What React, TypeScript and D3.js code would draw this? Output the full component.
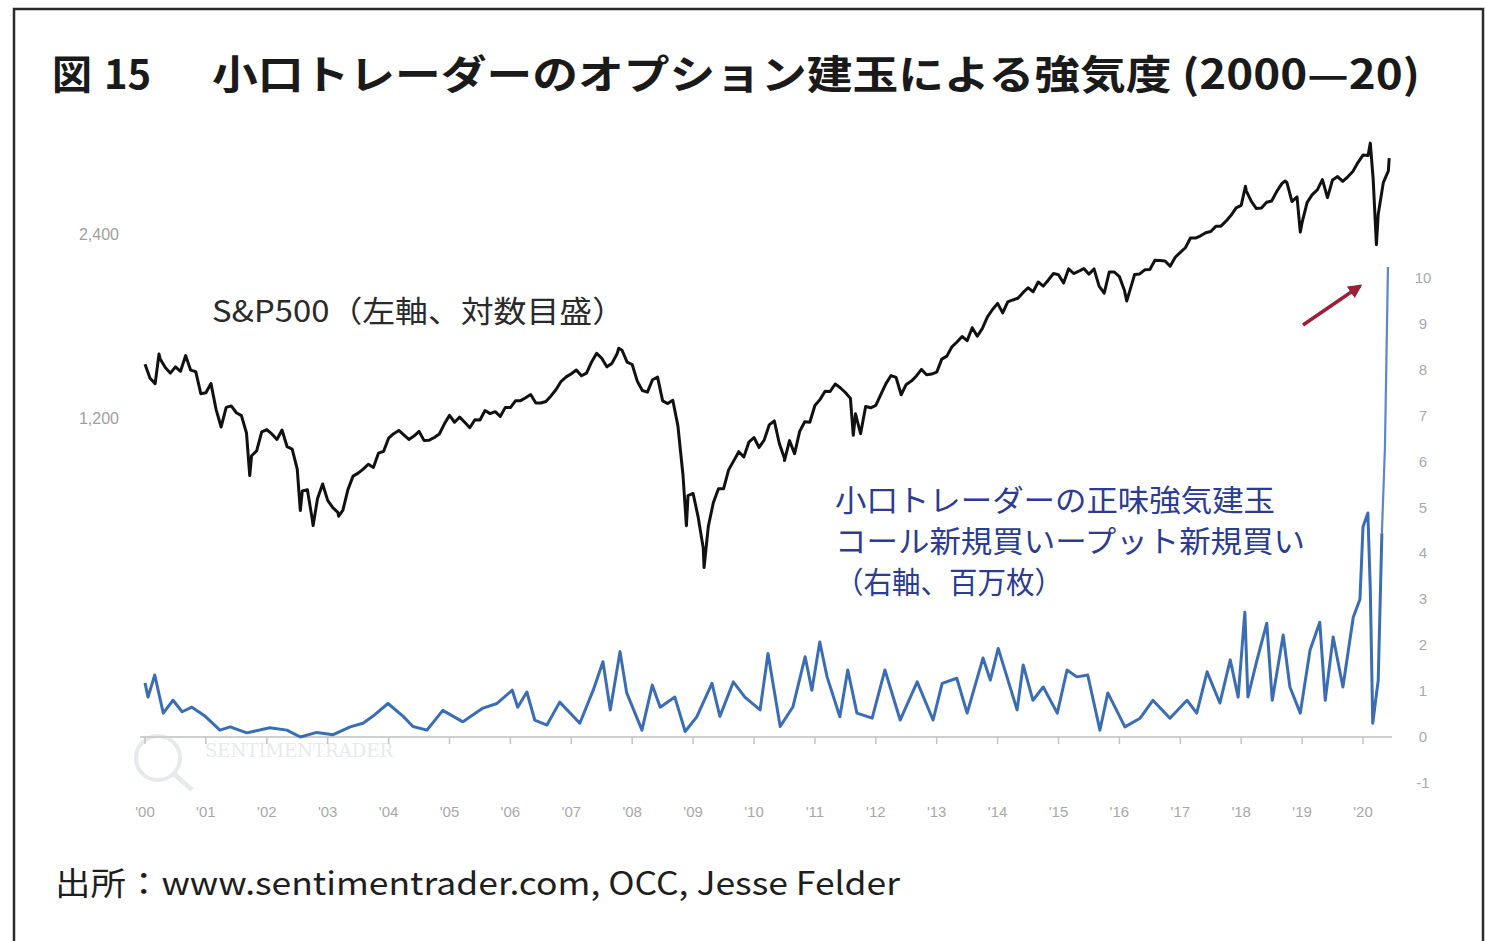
import React from 'react';
import * as d3 from 'd3';

// ---------- DATA ----------
const spxFirstYear = 2000; // month-end closes starting Jan 2000
const spxMonthlyClose = [
  1394, 1366, 1499, 1452, 1421, 1455, 1431, 1518, 1437, 1429, 1315, 1320,
  1366, 1240, 1160, 1249, 1256, 1224, 1211, 1134, 1041, 1060, 1139, 1148,
  1130, 1107, 1147, 1077, 1067, 990, 912, 916, 815, 886, 936, 880,
  856, 841, 848, 917, 964, 975, 990, 1008, 996, 1051, 1058, 1112,
  1131, 1145, 1126, 1107, 1121, 1141, 1102, 1104, 1115, 1130, 1174, 1212,
  1181, 1204, 1181, 1157, 1192, 1191, 1234, 1220, 1229, 1207, 1249, 1248,
  1280, 1281, 1295, 1311, 1270, 1270, 1277, 1304, 1336, 1378, 1401, 1418,
  1438, 1407, 1421, 1482, 1531, 1503, 1455, 1474, 1527, 1549, 1481, 1468,
  1379, 1331, 1323, 1386, 1400, 1280, 1267, 1283, 1166, 969, 896, 903,
  826, 735, 798, 873, 919, 919, 987, 1021, 1057, 1036, 1096, 1115,
  1074, 1104, 1169, 1187, 1089, 1031, 1102, 1049, 1141, 1183, 1181, 1258,
  1286, 1327, 1326, 1364, 1345, 1321, 1292, 1219, 1131, 1253, 1247, 1258,
  1312, 1366, 1408, 1398, 1310, 1362, 1379, 1406, 1441, 1412, 1416, 1426,
  1498, 1515, 1569, 1598, 1631, 1606, 1686, 1633, 1682, 1757, 1806, 1848,
  1783, 1859, 1872, 1884, 1924, 1960, 1931, 2003, 1972, 2018, 2068, 2059,
  1995, 2105, 2068, 2086, 2107, 2063, 2104, 1972, 1920, 2079, 2080, 2044,
  1940, 1932, 2060, 2065, 2097, 2099, 2174, 2171, 2168, 2126, 2199, 2239,
  2279, 2364, 2363, 2384, 2412, 2423, 2470, 2472, 2519, 2575, 2648, 2674,
  2824, 2714, 2641, 2648, 2705, 2718, 2816, 2902, 2914, 2712, 2760, 2507,
  2704, 2784, 2834, 2946, 2752, 2942, 2980, 2926, 2977, 3038, 3141, 3231,
  3226, 2954, 2585, 2912, 3044,
];
// weekly-close extremes (decimal year, value)
const spxExtraT = [2000.0, 2000.23, 2001.72, 2002.55, 2002.76, 2003.18, 2007.78, 2008.89, 2009.18, 2010.5, 2011.63, 2016.12, 2018.07, 2018.72, 2018.97, 2020.12, 2020.22, 2020.43];
const spxExtraV = [1469, 1527, 966, 847, 800, 829, 1561, 800, 683, 1022, 1124, 1865, 2873, 2930, 2417, 3380, 2305, 3194];

// small traders' net bullish open positions (millions of contracts)
const bullT = [
  2000.0, 2000.05, 2000.16, 2000.3, 2000.46, 2000.61, 2000.77, 2000.99, 2001.23, 2001.4,
  2001.67, 2002.05, 2002.33, 2002.55, 2002.82, 2003.09, 2003.37, 2003.58, 2003.74, 2003.99,
  2004.24, 2004.4, 2004.63, 2004.89, 2005.22, 2005.55, 2005.78, 2006.03, 2006.12, 2006.27,
  2006.4, 2006.6, 2006.81, 2007.14, 2007.36, 2007.52, 2007.64, 2007.8, 2007.91, 2008.16,
  2008.33, 2008.46, 2008.7, 2008.87, 2009.06, 2009.31, 2009.44, 2009.66, 2009.85, 2010.1,
  2010.23, 2010.43, 2010.64, 2010.84, 2010.95, 2011.08, 2011.2, 2011.41, 2011.54, 2011.69,
  2011.94, 2012.15, 2012.4, 2012.68, 2012.94, 2013.09, 2013.33, 2013.5, 2013.76, 2013.88,
  2014.01, 2014.32, 2014.42, 2014.58, 2014.75, 2014.98, 2015.14, 2015.3, 2015.48, 2015.68,
  2015.81, 2016.09, 2016.34, 2016.55, 2016.83, 2017.11, 2017.27, 2017.44, 2017.65, 2017.82,
  2017.95, 2018.06, 2018.11, 2018.26, 2018.42, 2018.51, 2018.69, 2018.8, 2018.97, 2019.13,
  2019.29, 2019.38, 2019.51, 2019.67, 2019.84, 2019.95, 2020.0, 2020.08, 2020.12, 2020.16,
  2020.25, 2020.31, 2020.36, 2020.41,
];
const bullV = [
  1.18, 0.87, 1.35, 0.52, 0.8, 0.55, 0.65, 0.45, 0.15, 0.22,
  0.09, 0.2, 0.15, 0.0, 0.1, 0.05, 0.22, 0.3, 0.45, 0.73,
  0.45, 0.23, 0.15, 0.58, 0.33, 0.63, 0.73, 1.02, 0.65, 0.98,
  0.37, 0.26, 0.76, 0.3, 1.02, 1.64, 0.59, 1.86, 0.96, 0.15,
  1.13, 0.65, 0.87, 0.12, 0.44, 1.17, 0.45, 1.2, 0.87, 0.59,
  1.82, 0.23, 0.66, 1.75, 1.02, 2.07, 1.31, 0.44, 1.46, 0.52,
  0.41, 1.46, 0.37, 1.2, 0.37, 1.17, 1.28, 0.52, 1.72, 1.24,
  1.93, 0.59, 1.57, 0.8, 1.09, 0.52, 1.46, 1.31, 1.35, 0.15,
  0.96, 0.22, 0.41, 0.8, 0.41, 0.8, 0.52, 1.42, 0.74, 1.68,
  0.87, 2.72, 0.87, 1.68, 2.48, 0.8, 2.22, 1.09, 0.52, 1.89,
  2.5, 0.8, 2.18, 1.09, 2.61, 3.0, 4.58, 4.88, 3.2, 0.3,
  1.24, 4.44, 6.3, 10.24,
];

const yearTicks = d3.range(2000, 2021);
const leftTicks = [1200, 2400];
const rightTicks = d3.range(-1, 11);

const titleNo = '図 15';
const titleText = '小口トレーダーのオプション建玉による強気度 (2000—20)';
const spxLabel = 'S&P500（左軸、対数目盛）';
const bullLabel = ['小口トレーダーの正味強気建玉', 'コール新規買いープット新規買い', '（右軸、百万枚）'];
const bullLabelWidth = [440, 470, 228];
const sourceText = '出所：www.sentimentrader.com, OCC, Jesse Felder';

// ---------- CHART ----------
const W = 1485;
const H = 941;
const JP = '"Noto Sans CJK JP", "Noto Sans", sans-serif';

export default function App() {
  const x = d3.scaleLinear().domain([2000, 2020]).range([145, 1363]);
  const yL = d3.scaleLog().domain([1200, 2400]).range([418, 234]);
  const yR = d3.scaleLinear().domain([0, 10]).range([737, 278]);

  const spx: [number, number][] = spxMonthlyClose.map((v, i) => [spxFirstYear + (i + 1) / 12, v]);
  spxExtraT.forEach((t, i) => spx.push([t, spxExtraV[i]]));
  spx.sort((a, b) => a[0] - b[0]);

  const bull: [number, number][] = bullT.map((t, i) => [t, bullV[i]]);
  const splitIdx = bull.length - 3;

  const spxLine = d3.line<[number, number]>().x((d) => x(d[0])).y((d) => yL(d[1]));
  const bullLine = d3.line<[number, number]>().x((d) => x(d[0])).y((d) => yR(d[1]));

  const [fig, num] = titleNo.split(' ');

  return (
    <svg width={W} height={H} style={{ position: 'absolute', left: 0, top: 0, background: '#fff' }}>
      <defs>
        <marker id="arr" viewBox="0 0 10 10" refX="8" refY="5" markerWidth="4" markerHeight="4" orient="auto">
          <path d="M0,0 L10,5 L0,10 z" fill="#9b1f35" />
        </marker>
      </defs>
      <rect x={0} y={0} width={W} height={H} fill="#fff" />
      {/* frame */}
      <path d={`M14,${H + 5} L14,9 L1483,9 L1483,${H + 5}`} fill="none" stroke="#2b2b2b" strokeWidth={2.5} />

      {/* title */}
      <text y={89} fontFamily={JP} fontSize={40} fontWeight={700} fill="#1a1a1a">
        <tspan x={52}>{fig}</tspan>
        <tspan x={104}>{num}</tspan>
      </text>
      <text x={212} y={89} fontFamily={JP} fontSize={40} fontWeight={700} fill="#1a1a1a" textLength={1208} lengthAdjust="spacingAndGlyphs">{titleText}</text>

      {/* watermark */}
      <g opacity={0.5}>
        <circle cx={158} cy={758} r={22} fill="none" stroke="#cfd6dc" strokeWidth={4} />
        <line x1={174} y1={774} x2={192} y2={790} stroke="#cfd6dc" strokeWidth={5} />
        <text x={205} y={757} fontFamily="DejaVu Serif, serif" fontSize={19} fill="#cfd6dc" textLength={188} lengthAdjust="spacingAndGlyphs">SENTIMENTRADER</text>
      </g>

      {/* zero line and year ticks */}
      <line x1={140} x2={1392} y1={yR(0)} y2={yR(0)} stroke="#cfcfcf" strokeWidth={2} />
      {yearTicks.map((yr) => (
        <g key={yr}>
          <line x1={x(yr)} x2={x(yr)} y1={yR(0)} y2={yR(0) + 7} stroke="#c4c4c4" strokeWidth={1.5} />
          <text x={x(yr)} y={817} textAnchor="middle" fontFamily="Liberation Sans, Arial, sans-serif" fontSize={15} fill="#a8a8a8">
            {"'" + String(yr % 100).padStart(2, '0')}
          </text>
        </g>
      ))}

      {/* left axis labels */}
      {leftTicks.map((v) => (
        <text key={v} x={99} y={yL(v) + 6} textAnchor="middle" fontFamily="Liberation Sans, Arial, sans-serif" fontSize={16} fill="#a0a0a0">
          {d3.format(',')(v)}
        </text>
      ))}

      {/* right axis labels */}
      {rightTicks.map((v) => (
        <text key={v} x={1423} y={yR(v) + 5} textAnchor="middle" fontFamily="Liberation Sans, Arial, sans-serif" fontSize={15} fill="#a6a9b3">
          {v}
        </text>
      ))}

      {/* series */}
      <path d={bullLine(bull.slice(0, splitIdx + 1)) || ''} fill="none" stroke="#3a6db4" strokeWidth={3} strokeLinejoin="round" />
      <path d={bullLine(bull.slice(splitIdx)) || ''} fill="none" stroke="#5d86cb" strokeWidth={2.2} strokeLinejoin="round" />
      <path d={spxLine(spx) || ''} fill="none" stroke="#111" strokeWidth={3} strokeLinejoin="round" />

      {/* annotations */}
      <text x={212} y={322} fontFamily={JP} fontSize={30} fill="#2a2a2a" textLength={413} lengthAdjust="spacingAndGlyphs">{spxLabel}</text>
      {bullLabel.map((s, i) => (
        <text key={i} x={835} y={511 + i * 41} fontFamily={JP} fontSize={30} fill="#2b3c92" textLength={bullLabelWidth[i]} lengthAdjust="spacingAndGlyphs">{s}</text>
      ))}
      <line x1={1303} y1={325} x2={1360} y2={286} stroke="#9b1f35" strokeWidth={3.5} markerEnd="url(#arr)" />

      {/* source */}
      <text x={55} y={895} fontFamily={JP} fontSize={32} fill="#1e1e1e" textLength={845} lengthAdjust="spacingAndGlyphs">{sourceText}</text>
    </svg>
  );
}
